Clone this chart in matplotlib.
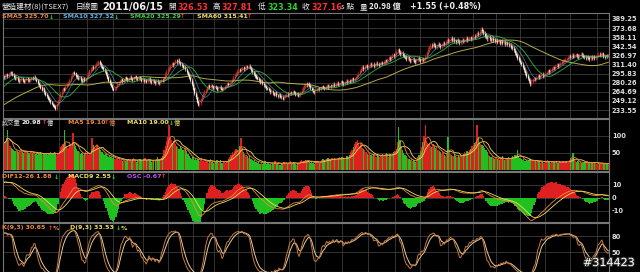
import numpy as np
import pandas as pd
import matplotlib
matplotlib.use("Agg")
import matplotlib.pyplot as plt
import matplotlib.patheffects as pe

plt.rcParams['font.family'] = ['DejaVu Sans', 'Noto Sans CJK TC']
CJK = ['Noto Sans CJK TC', 'DejaVu Sans']

# closes before the visible window (only used to seed the averages)
pre_close = [215, 218, 214, 212, 216, 220, 217, 213, 210, 212,
             215, 219, 222, 220, 218, 221, 225, 223, 220, 224,
             228, 226, 223, 221, 225, 229, 232, 230, 227, 231,
             235, 233, 236, 240, 238, 242, 246, 243, 248, 252,
             249, 254, 258, 255, 260, 264, 261, 266, 270, 268,
             273, 277, 275, 280, 284, 281, 286, 289, 287, 291]

# daily closes, visible window
close = [
    290, 293, 294, 292, 295, 298, 297, 294, 290, 287, 289, 285, 283, 286, 288, 284, 282, 286, 288, 285,
    284, 286, 289, 287, 290, 288, 284, 279, 276, 272, 268, 270, 264, 260, 257, 253, 250, 247, 244, 241,
    239, 236, 243, 250, 256, 262, 266, 270, 268, 274, 278, 281, 285, 291, 295, 298, 296, 292, 290, 287,
    289, 285, 283, 287, 284, 287, 292, 297, 301, 304, 307, 305, 309, 312, 314, 316, 313, 309, 306, 303,
    300, 295, 289, 284, 279, 275, 271, 268, 270, 274, 278, 281, 284, 286, 283, 286, 289, 287, 285, 288,
    290, 287, 285, 289, 291, 288, 286, 289, 287, 284, 286, 283, 284, 282, 285, 287, 283, 281, 284, 282,
    280, 283, 281, 279, 282, 285, 284, 289, 295, 300, 304, 307, 310, 313, 311, 315, 318, 316, 319, 315,
    312, 310, 306, 307, 303, 298, 294, 289, 285, 278, 270, 262, 255, 248, 242, 245, 251, 257, 262, 265,
    268, 272, 275, 273, 276, 274, 271, 274, 272, 268, 271, 273, 270, 268, 271, 274, 276, 279, 277, 280,
    281, 285, 290, 294, 297, 300, 303, 301, 304, 306, 303, 305, 308, 307, 309, 306, 302, 298, 295, 292,
    289, 287, 285, 281, 283, 279, 276, 274, 271, 270, 268, 264, 266, 262, 260, 263, 259, 257, 260, 256,
    255, 253, 256, 258, 261, 259, 262, 264, 262, 265, 263, 260, 262, 258, 259, 263, 268, 272, 275, 278,
    276, 279, 275, 271, 268, 266, 264, 267, 269, 271, 269, 272, 274, 272, 270, 273, 275, 273, 276, 274,
    276, 278, 275, 278, 280, 277, 279, 282, 280, 278, 281, 283, 281, 284, 282, 285, 287, 285, 288, 290,
    293, 297, 301, 305, 307, 304, 308, 310, 307, 309, 312, 310, 312, 309, 311, 314, 312, 310, 313, 315,
    313, 316, 318, 317, 320, 323, 321, 325, 328, 326, 330, 334, 337, 333, 329, 331, 327, 325, 324, 321,
    323, 320, 317, 319, 321, 318, 316, 319, 322, 320, 318, 321, 319, 320, 326, 332, 338, 342, 345, 343,
    346, 344, 341, 343, 346, 344, 342, 345, 348, 346, 350, 353, 351, 354, 356, 353, 355, 352, 350, 353,
    351, 348, 350, 353, 351, 354, 356, 353, 355, 357, 355, 358, 360, 358, 362, 365, 363, 368, 372, 369,
    365, 361, 358, 356, 359, 355, 353, 356, 354, 351, 353, 350, 352, 349, 351, 348, 350, 347, 349, 346,
    344, 345, 341, 339, 336, 331, 327, 323, 319, 315, 312, 307, 302, 297, 292, 288, 283, 278, 282, 286,
    288, 286, 290, 292, 289, 293, 295, 292, 294, 296, 298, 301, 299, 302, 304, 306, 305, 309, 311, 309,
    312, 314, 316, 318, 319, 321, 321, 324, 326, 324, 327, 325, 327, 328, 326, 324, 327, 329, 327, 325,
    324, 322, 325, 323, 321, 324, 322, 325, 323, 323.6, 327, 329.5, 328.2, 330, 330, 325.0, 324.5, 326.2, 325.61, 327.16,
]

# daily volume (億)
volume = [
    82, 78, 95, 118, 88, 72, 66, 61, 58, 55, 60, 57, 52, 56, 59, 54, 50, 57, 53, 55,
    51, 56, 53, 49, 52, 47, 50, 45, 48, 53, 46, 44, 49, 51, 47, 45, 50, 53, 48, 46,
    52, 49, 45, 48, 55, 68, 72, 75, 118, 79, 70, 66, 73, 71, 68, 109, 76, 70, 62, 57,
    52, 48, 50, 45, 47, 53, 49, 44, 48, 51, 94, 73, 68, 65, 70, 66, 62, 58, 52, 48,
    45, 47, 42, 39, 43, 37, 35, 40, 33, 31, 36, 29, 34, 30, 27, 32, 28, 25, 30, 33,
    29, 26, 31, 35, 28, 24, 30, 27, 33, 29, 25, 31, 36, 28, 26, 32, 29, 24, 27, 30,
    26, 33, 38, 29, 31, 35, 42, 58, 72, 85, 97, 132, 95, 88, 80, 84, 76, 70, 68, 63,
    72, 66, 59, 64, 61, 55, 48, 40, 36, 33, 38, 30, 35, 28, 32, 26, 30, 34, 27, 24,
    29, 25, 22, 27, 31, 24, 20, 26, 23, 28, 21, 25, 30, 22, 26, 24, 20, 27, 32, 38,
    44, 52, 48, 56, 62, 58, 53, 70, 94, 66, 53, 48, 45, 40, 36, 42, 33, 29, 25, 28,
    24, 21, 26, 19, 23, 18, 22, 27, 17, 21, 24, 18, 16, 22, 19, 25, 17, 20, 23, 16,
    21, 18, 24, 19, 22, 17, 20, 26, 18, 21, 23, 19, 16, 22, 20, 25, 28, 24, 27, 30,
    26, 29, 24, 21, 25, 22, 19, 23, 27, 25, 21, 24, 29, 33, 30, 27, 32, 35, 31, 28,
    34, 30, 36, 33, 29, 35, 38, 32, 37, 34, 31, 36, 40, 37, 45, 52, 60, 68, 75, 82,
    88, 78, 72, 80, 66, 62, 58, 52, 48, 45, 50, 44, 41, 47, 43, 39, 46, 42, 38, 44,
    48, 41, 45, 50, 43, 39, 46, 42, 48, 52, 56, 62, 82, 126, 88, 70, 58, 50, 44, 40,
    36, 31, 28, 33, 25, 29, 24, 30, 38, 45, 55, 68, 82, 100, 132, 85, 80, 76, 72, 68,
    75, 70, 64, 68, 59, 55, 52, 48, 53, 45, 42, 50, 97, 56, 48, 44, 40, 46, 41, 38,
    43, 39, 45, 41, 48, 52, 47, 55, 50, 58, 62, 70, 74, 80, 82, 132, 98, 82, 76, 73,
    70, 66, 60, 54, 44, 40, 37, 42, 35, 33, 38, 31, 36, 29, 34, 40, 32, 30, 35, 31,
    38, 33, 36, 42, 38, 44, 40, 59, 42, 36, 33, 29, 31, 27, 30, 26, 28, 32, 27, 25,
    29, 26, 24, 28, 25, 22, 27, 24, 21, 26, 23, 28, 25, 22, 24, 27, 23, 20, 25, 22,
    26, 23, 21, 25, 22, 27, 24, 21, 28, 34, 38, 50, 32, 26, 23, 25, 21, 24, 22, 20,
    23, 21, 25, 22, 20, 24, 21, 23, 20, 22, 19, 20, 18.5, 19, 18, 19, 18, 20, 17.5, 20.98,
]

last_open = 326.53
day_range = 0.02  # typical intraday high-low spread, as a share of price
osc_scale = 3.5   # histogram drawn enlarged, like the source chart
month_idx = [44, 66, 87, 110, 130, 150, 167, 186, 206, 226, 247, 268, 289,
             310, 330, 352, 372, 390, 409, 429, 449, 470]
price_ticks = [233.55, 249.12, 264.69, 280.26, 295.83, 311.40, 326.97,
               342.54, 358.11, 373.68, 389.25]
vol_ticks = [50, 100]
macd_ticks = [-10, 0, 10]
kd_ticks = [50, 80]

N = len(close)
x = np.arange(N)
npre = len(pre_close)
full = pd.Series(pre_close + close, dtype=float)

sma = {w: full.rolling(w).mean().values[npre:] for w in (5, 10, 20, 60)}

fc = full.values
fo = np.r_[fc[0], fc[:-1]]
fo[-1] = last_open
fh = np.maximum(fo, fc) + fc * day_range / 2
fl = np.minimum(fo, fc) - fc * day_range / 2
c, o, h, l = fc[npre:], fo[npre:], fh[npre:], fl[npre:]
up = c >= o

ema12 = full.ewm(span=12, adjust=False).mean()
ema26 = full.ewm(span=26, adjust=False).mean()
dif = ema12 - ema26
sig = dif.ewm(span=9, adjust=False).mean()
osc = (dif - sig).values[npre:]
dif = dif.values[npre:]
sig = sig.values[npre:]

hi9 = pd.Series(fh).rolling(9, min_periods=1).max().values
lo9 = pd.Series(fl).rolling(9, min_periods=1).min().values
rsv = (fc - lo9) / (hi9 - lo9) * 100
K = np.zeros(len(rsv))
D = np.zeros(len(rsv))
k, d = 50.0, 50.0
for i, r in enumerate(rsv):
    k = k * 2 / 3 + r / 3
    d = d * 2 / 3 + k / 3
    K[i], D[i] = k, d
K, D = K[npre:], D[npre:]

v = np.array(volume, dtype=float)
vma5 = pd.Series(v).rolling(5, min_periods=1).mean()
vma10 = pd.Series(v).rolling(10, min_periods=1).mean()

WHITE = '#eeeeee'
RED = '#ff3030'
GRN = '#30d030'
ORANGE = '#f08a3c'
BLUE = '#5ab4f0'
LGREEN = '#40d040'
YELLOW = '#f0e060'
PURPLE = '#c050f0'
GRID = '#3c3c3c'

fig = plt.figure(figsize=(6.4, 2.72), dpi=100, facecolor='black')


def panel(top, bottom):
    ax = fig.add_axes([3 / 640, 1 - bottom / 272, 606 / 640, (bottom - top) / 272],
                      facecolor='black')
    ax.set_xlim(-0.5, N - 0.5)
    ax.set_xticks(month_idx)
    ax.tick_params(axis='x', length=0, labelbottom=False)
    ax.yaxis.tick_right()
    ax.tick_params(axis='y', length=0, pad=2, labelsize=4.8, labelcolor='#dddddd')
    ax.grid(True, color=GRID, lw=0.6)
    ax.set_axisbelow(True)
    for s in ax.spines.values():
        s.set_color('#777777')
        s.set_linewidth(0.8)
    return ax


# price
ax_p = panel(13, 118)
ax_p.set_ylim(219.9, 399.5)
ax_p.set_yticks(price_ticks, ['%.2f' % t for t in price_ticks], fontweight='bold')
cols = np.where(up, '#c02828', '#f2f2f2')
ax_p.vlines(x, l, h, colors=cols, lw=0.45)
ax_p.vlines(x, np.minimum(o, c), np.maximum(o, c) + 0.6, colors=cols, lw=0.9)
ax_p.plot(x, sma[60], color=YELLOW, lw=0.7, alpha=0.75)
ax_p.plot(x, sma[20], color=LGREEN, lw=0.7, alpha=0.75)
ax_p.plot(x, sma[10], color=BLUE, lw=0.6, alpha=0.6)
ax_p.plot(x, sma[5], color=ORANGE, lw=0.6, alpha=0.6)

# volume
ax_v = panel(119, 171)
ax_v.set_ylim(-3, 150)
ax_v.set_yticks(vol_ticks, [str(t) for t in vol_ticks], fontweight='bold')
ax_v.bar(x, v, width=1.0, color=np.where(up, '#e02020', '#20c020'), linewidth=0)
ax_v.plot(x, vma10, color=YELLOW, lw=0.6)
ax_v.plot(x, vma5, color=ORANGE, lw=0.6)

# macd
ax_m = panel(172, 222)
ax_m.set_ylim(-18.5, 20)
ax_m.set_yticks(macd_ticks, [str(t) for t in macd_ticks], fontweight='bold')
ax_m.bar(x, osc * osc_scale, width=1.0, color=np.where(osc >= 0, '#e02020', '#20c020'),
         linewidth=0)
ax_m.plot(x, dif, color=ORANGE, lw=0.6)
ax_m.plot(x, sig, color=YELLOW, lw=0.6)

# kd
ax_k = panel(223, 272)
ax_k.set_ylim(12.6, 104.5)
ax_k.set_yticks(kd_ticks, [str(t) for t in kd_ticks], fontweight='bold')
ax_k.plot(x, D, color='#e6cc98', lw=0.7)
ax_k.plot(x, K, color='#c87a40', lw=0.7)


def put(px, py, s, color, size=4.5, bold=True, cjk=False):
    fig.text(px / 640, 1 - py / 272, s, color=color, fontsize=size,
             fontweight='bold' if bold else 'normal', va='center', ha='left',
             family=CJK if cjk else ['DejaVu Sans', 'Noto Sans CJK TC'])


# header
put(2, 7, '營造建材(8)(TSEX7)', WHITE, 5.5, False, True)
put(76, 7, '日線圖', WHITE, 5.5, False, True)
put(102, 7, '2011/06/15', WHITE, 7)
put(168, 7, '開', WHITE, 5.5, False, True)
put(177, 7, '326.53', RED, 5.8)
put(213, 7, '高', WHITE, 5.5, False, True)
put(222, 7, '327.81', RED, 5.8)
put(258, 7, '低', WHITE, 5.5, False, True)
put(267, 7, '323.34', GRN, 5.8)
put(302, 7, '收', WHITE, 5.5, False, True)
put(311, 7, '327.16', RED, 5.8)
put(341, 7, 's 點', WHITE, 5.5, False, True)
put(360, 7, '量', WHITE, 5.5, False, True)
put(369, 7, '20.98 億', WHITE, 5.8, True, True)
put(410, 7, '+1.55 (+0.48%)', WHITE, 5.8)

# price legend
put(2, 17, 'SMA5 325.70', ORANGE)
put(49, 17, '↓', GRN)
put(63, 17, 'SMA10 327.32', BLUE)
put(114, 17, '↓', GRN)
put(130, 17, 'SMA20 325.29', LGREEN)
put(180, 17, '↑', RED)
put(197, 17, 'SMA60 315.41', YELLOW)
put(247, 17, '↑', RED)

# volume legend
put(2, 123, '成交量', '#cccccc', 4.5, False, True)
put(22, 123, '20.98', WHITE)
put(42, 123, '↑', RED)
put(47, 123, '億', WHITE, 4.5, False, True)
put(68, 123, 'MA5 19.10', ORANGE)
put(104, 123, '↑', RED)
put(109, 123, '億', ORANGE, 4.5, False, True)
put(127, 123, 'MA10 19.00', YELLOW)
put(169, 123, '↓', GRN)
put(174, 123, '億', YELLOW, 4.5, False, True)

# macd legend
put(2, 177, 'DIF12-26 1.88', ORANGE)
put(54, 177, '↓', GRN)
put(68, 177, 'MACD9 2.55', YELLOW)
put(111, 177, '↓', GRN)
put(127, 177, 'OSC -0.67', PURPLE)
put(161, 177, '↑', RED)

# kd legend
put(2, 228, 'K(9,3) 30.65', ORANGE)
put(48, 228, '↑', RED)
put(53, 228, '%', ORANGE)
put(70, 228, 'D(9,3) 33.53', YELLOW)
put(116, 228, '↓', GRN)
put(121, 228, '%', YELLOW)

wm = fig.text(583 / 640, 1 - 263 / 272, '#314423', color='white', fontsize=8,
              va='center', ha='left')
wm.set_path_effects([pe.withStroke(linewidth=1.5, foreground='#333333')])

fig.savefig('out.png', dpi=100, facecolor='black')
